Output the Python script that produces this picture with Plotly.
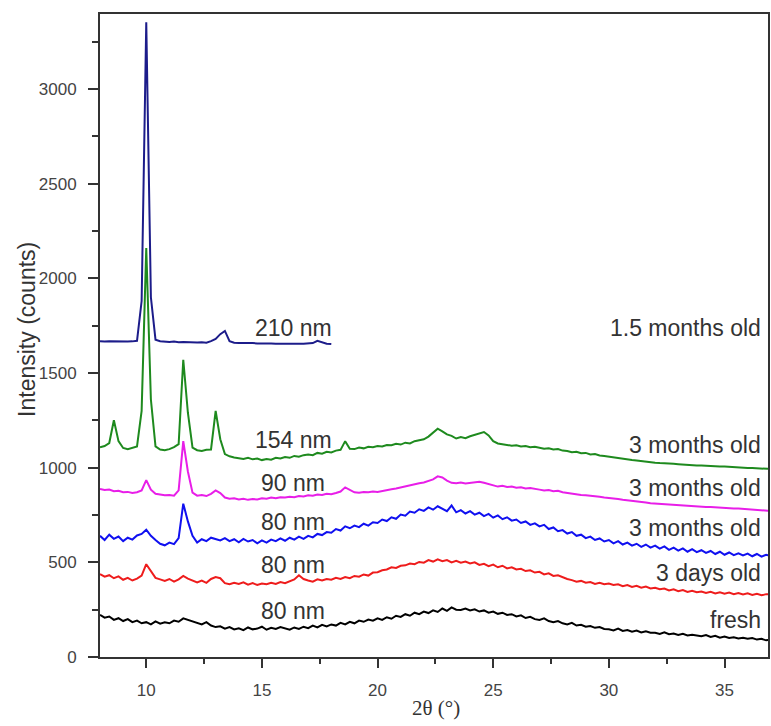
import numpy as np
import plotly.graph_objects as go

# 2-theta sampling grid (0.2 deg steps from 8 to 37)
two_theta = np.round(8 + 0.2 * np.arange(146), 1)
two_theta_short = two_theta[:51]  # 210 nm pattern stops at 18 deg

fresh_80 = [
    222, 208, 214, 196, 205, 190, 200, 184, 192, 178,
    184, 172, 188, 176, 183, 178, 192, 186, 204, 196,
    188, 180, 172, 184, 166, 158, 162, 150, 158, 146,
    152, 142, 156, 146, 150, 160, 144, 154, 148, 158,
    150, 144, 156, 148, 160, 152, 166, 156, 170, 162,
    172, 166, 180, 172, 186, 178, 192, 186, 198, 192,
    204, 196, 210, 202, 218, 212, 226, 218, 234, 226,
    240, 232, 246, 238, 256, 244, 262, 250, 248, 256,
    246, 252, 240, 246, 234, 240, 228, 234, 222, 226,
    214, 220, 206, 212, 200, 196, 204, 190, 184, 190,
    178, 172, 180, 166, 170, 160, 164, 154, 158, 148,
    146, 140, 150, 138, 142, 134, 140, 130, 136, 128,
    128, 122, 130, 120, 124, 116, 122, 114, 118, 112,
    110, 116, 106, 112, 102, 108, 100, 104, 98, 102,
    96, 100, 92, 96, 88, 92,
]

days3_80 = [
    438, 424, 432, 416, 426, 408, 418, 404, 414, 430,
    490, 452, 418, 410, 402, 412, 398, 410, 428, 414,
    402, 394, 404, 392, 412, 422, 416, 390, 384, 392,
    386, 394, 382, 390, 380, 388, 384, 392, 386, 396,
    390, 398, 410, 432, 412, 404, 398, 410, 404, 412,
    408, 418, 412, 422, 416, 428, 424, 436, 430, 446,
    448, 458, 462, 474, 470, 482, 484, 494, 490, 502,
    498, 512, 504, 516, 506, 512, 500, 508, 498, 504,
    494, 500, 486, 492, 480, 488, 474, 482, 468, 474,
    462, 466, 454, 458, 446, 450, 436, 442, 428, 432,
    420, 412, 406, 398, 402, 392, 396, 386, 392, 384,
    388, 380, 384, 374, 380, 370, 376, 366, 372, 362,
    366, 358, 362, 352, 358, 348, 354, 344, 350, 342,
    346, 338, 344, 336, 342, 334, 340, 332, 338, 330,
    336, 328, 334, 326, 332, 330,
]

months3_80 = [
    640, 618, 646, 624, 636, 612, 630, 620, 642, 650,
    672, 640, 618, 598, 590, 604, 596, 628, 810, 716,
    640, 604, 622, 612, 630, 624, 616, 628, 612, 622,
    606, 624, 610, 618, 600, 616, 604, 620, 612, 626,
    614, 630, 620, 636, 624, 640, 632, 650, 644, 660,
    656, 676, 668, 690, 680, 694, 686, 704, 694, 712,
    708, 726, 718, 738, 730, 752, 746, 768, 762, 780,
    772, 790, 778, 796, 782, 770, 800, 764, 776, 758,
    770, 752, 762, 744, 756, 736, 748, 728, 738, 720,
    726, 708, 716, 698, 706, 690, 698, 676, 684, 664,
    670, 652, 660, 640, 646, 628, 636, 618, 626, 610,
    618, 600, 612, 594, 604, 588, 598, 582, 594, 578,
    588, 572, 584, 566, 578, 562, 574, 556, 570, 554,
    564, 550, 560, 544, 556, 540, 552, 538, 548, 536,
    546, 532, 544, 530, 540, 534,
]

months3_90 = [
    888, 882, 884, 876, 878, 870, 872, 866, 870, 880,
    934, 884, 862, 858, 854, 856, 852, 880, 1140, 980,
    868, 852, 856, 850, 862, 880, 866, 842, 836, 838,
    832, 836, 830, 834, 832, 838, 836, 842, 838, 844,
    842, 846, 844, 850, 848, 854, 852, 858, 856, 862,
    860, 866, 874, 896, 884, 870, 868, 872, 870, 874,
    872, 878, 880, 886, 890, 896, 900, 906, 912, 918,
    922, 930, 938, 954, 948, 932, 920, 918, 922, 916,
    920, 924, 926, 920, 914, 906, 900, 904, 898, 900,
    894, 896, 890, 892, 886, 884, 880, 882, 876, 878,
    870, 866, 862, 860, 856, 854, 852, 848, 846, 842,
    840, 836, 834, 830, 828, 824, 822, 818, 816, 812,
    810, 808, 806, 804, 802, 800, 800, 798, 796, 796,
    794, 792, 792, 790, 788, 788, 786, 784, 784, 782,
    780, 778, 776, 775, 772, 771,
]

months3_154 = [
    1108, 1114, 1130, 1250, 1140, 1104, 1098, 1106, 1112, 1300,
    2160, 1360, 1112, 1096, 1092, 1098, 1108, 1124, 1570, 1290,
    1106, 1092, 1088, 1094, 1096, 1300, 1150, 1072, 1060, 1054,
    1050, 1046, 1052, 1044, 1048, 1040, 1046, 1042, 1052, 1048,
    1056, 1052, 1062, 1058, 1066, 1070, 1066, 1078, 1074, 1084,
    1080, 1090, 1094, 1140, 1100, 1098, 1106, 1102, 1110, 1108,
    1114, 1112, 1120, 1118, 1126, 1122, 1132, 1128, 1140, 1146,
    1150, 1164, 1184, 1206, 1192, 1176, 1168, 1154, 1162, 1156,
    1166, 1172, 1180, 1188, 1170, 1140, 1128, 1124, 1120, 1116,
    1118, 1112, 1114, 1108, 1110, 1104, 1100, 1102, 1096, 1098,
    1090, 1088, 1082, 1084, 1076, 1078, 1070, 1072, 1064, 1062,
    1058, 1054, 1050, 1048, 1044, 1040, 1038, 1034, 1032, 1028,
    1026, 1024, 1024, 1020, 1020, 1018, 1016, 1016, 1014, 1012,
    1012, 1010, 1010, 1008, 1006, 1006, 1004, 1002, 1002, 1000,
    998, 998, 996, 996, 994, 993,
]

months15_210 = [
    1668, 1666, 1668, 1667, 1666, 1668, 1666, 1667, 1670, 1880,
    3352, 1900, 1676, 1668, 1665, 1664, 1666, 1663, 1664, 1662,
    1663, 1661, 1662, 1660, 1668, 1680, 1705, 1722, 1668, 1660,
    1658, 1659, 1657, 1658, 1656, 1657, 1655, 1656, 1655, 1656,
    1655, 1654, 1656, 1655, 1654, 1656, 1658, 1670, 1662, 1655,
    1653,
]

# drawing order: later traces sit on top
series = [
    (two_theta, fresh_80, "80 nm", "fresh", "#000000"),
    (two_theta, days3_80, "80 nm", "3 days old", "#ee1c1c"),
    (two_theta, months3_80, "80 nm", "3 months old", "#1010f0"),
    (two_theta, months3_154, "154 nm", "3 months old", "#1e8a1e"),
    (two_theta, months3_90, "90 nm", "3 months old", "#e81ee8"),
    (two_theta_short, months15_210, "210 nm", "1.5 months old", "#1c1c8a"),
]
size_label_y = [243, 486, 713, 1146, 919, 1735]
age_label_y = [195, 443, 681, 1119, 892, 1735]

fig = go.Figure()
for x, y, size, age, color in series:
    fig.add_trace(go.Scatter(x=x, y=y, mode="lines", name=f"{size} {age}",
                             line=dict(color=color, width=2), showlegend=False))

txt_font = dict(family="Liberation Sans, Arial", size=23, color="#333333")
for (x, y, size, age, color), sy, ay in zip(series, size_label_y, age_label_y):
    fig.add_annotation(x=16.36, y=sy, text=size, showarrow=False,
                       xanchor="center", yanchor="middle", font=txt_font)
    fig.add_annotation(x=36.66, y=ay, text=age, showarrow=False,
                       xanchor="right", yanchor="middle", font=txt_font)

fig.add_annotation(xref="paper", yref="paper", x=-0.109, y=0.509,
                   text="Intensity (counts)", textangle=-90, showarrow=False,
                   xanchor="center", yanchor="middle",
                   font=dict(family="Liberation Sans, Arial", size=23, color="#333333"))
fig.add_annotation(xref="paper", yref="paper", x=0.503, y=-0.08,
                   text="2θ (°)", showarrow=False, xanchor="center", yanchor="middle",
                   font=dict(family="Liberation Serif, Times New Roman", size=21, color="#333333"))

axis_common = dict(
    showline=True, linecolor="#333333", linewidth=2, mirror=True,
    ticks="outside", tickcolor="#333333", tickwidth=2,
    showgrid=False, zeroline=False,
    tickfont=dict(family="Liberation Sans, Arial", size=17, color="#444444"),
)
fig.update_xaxes(range=[8, 36.88], dtick=5, tick0=0, ticklen=9, ticklabelstandoff=8,
                 minor=dict(dtick=2.5, tick0=0, ticklen=5, ticks="outside", tickcolor="#333333", tickwidth=2),
                 **axis_common)
fig.update_yaxes(range=[0, 3396], dtick=500, tick0=0, ticklen=10, ticklabelstandoff=8,
                 minor=dict(dtick=250, tick0=0, ticklen=6, ticks="outside", tickcolor="#333333", tickwidth=2),
                 **axis_common)

fig.update_layout(
    width=771, height=726,
    margin=dict(l=100, r=1, t=14, b=69),
    plot_bgcolor="white", paper_bgcolor="white",
)

# drop the default 8px page margin so the 771x726 figure fills the window
fig.write_html("out.html", config={"displayModeBar": False},
               post_script="document.body.style.margin='0';")
